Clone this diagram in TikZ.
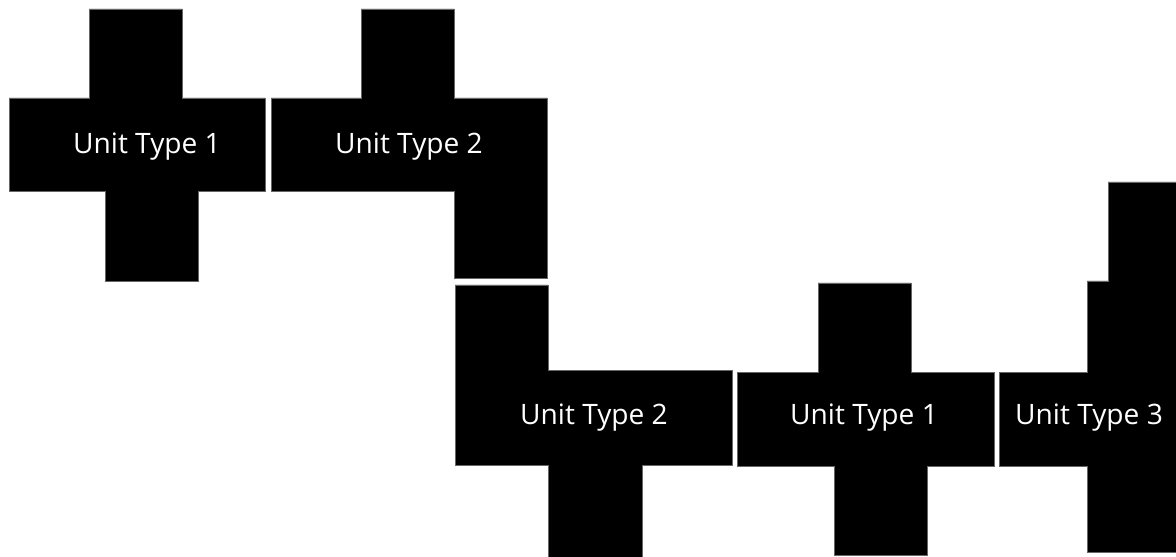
\documentclass[tikz,border=0pt]{standalone}
\usepackage{fontspec}
\setmainfont{Open Sans}
\tikzset{
  unit/.style={fill=black,draw=black!60,line width=0.2pt},
  unitlabel/.style={text=white,inner sep=0pt,font=\fontsize{20}{24}\selectfont}
}
\begin{document}
\begin{tikzpicture}[x=0.025cm,y=-0.025cm]
  \useasboundingbox (0,0) rectangle (1176,557);
  \fill[white] (0,0) rectangle (1176,557);
  \filldraw[unit] (89,9) -- (182,9) -- (182,98) -- (265,98) -- (265,191) -- (198,191)
    -- (198,281) -- (105,281) -- (105,191) -- (9,191) -- (9,98) -- (89,98) -- cycle;
  \filldraw[unit] (361,9) -- (454,9) -- (454,98) -- (547,98) -- (547,278) -- (454,278)
    -- (454,191) -- (271,191) -- (271,98) -- (361,98) -- cycle;
  \filldraw[unit] (455,285) -- (548,285) -- (548,370) -- (732,370) -- (732,465) -- (642,465)
    -- (642,557) -- (548,557) -- (548,465) -- (455,465) -- cycle;
  \filldraw[unit] (818,283) -- (911,283) -- (911,372) -- (994,372) -- (994,466) -- (927,466)
    -- (927,555) -- (834,555) -- (834,466) -- (737,466) -- (737,372) -- (818,372) -- cycle;
  \filldraw[unit] (1108,182) -- (1176,182) -- (1176,552) -- (1087,552) -- (1087,466)
    -- (999,466) -- (999,372) -- (1087,372) -- (1087,281) -- (1108,281) -- cycle;
  \node[unitlabel] (typeA) at (147,147) {Unit Type 1};
  \node[unitlabel] (typeB) at (409,147) {Unit Type 2};
  \node[unitlabel] (typeBlow) at (594,418) {Unit Type 2};
  \node[unitlabel] (typeAlow) at (864,418) {Unit Type 1};
  \node[unitlabel] (typeC) at (1089,418) {Unit Type 3};
\end{tikzpicture}
\end{document}
